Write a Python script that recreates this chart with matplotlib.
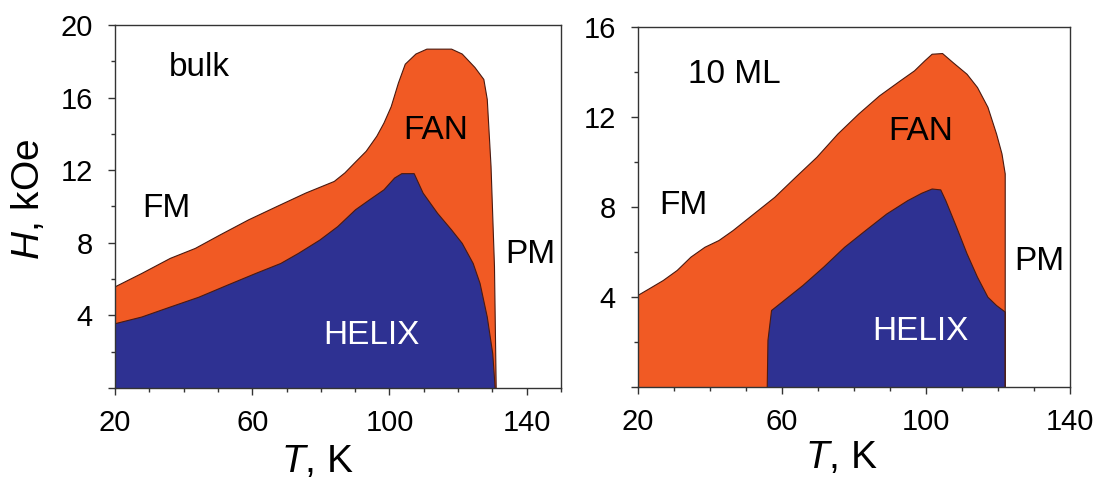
import matplotlib.pyplot as plt
import numpy as np
from matplotlib.ticker import MultipleLocator, FuncFormatter

plt.rcParams['font.family'] = ['Liberation Sans', 'DejaVu Sans']
plt.rcParams['mathtext.fontset'] = 'custom'
plt.rcParams['mathtext.it'] = 'Liberation Sans:italic'
plt.rcParams['mathtext.rm'] = 'Liberation Sans'

# ---- bulk: FM/FAN boundary (upper) and FAN/HELIX boundary ----
bulk_fan_T = [20, 27.8, 36.1, 43.4, 50.6, 58.9, 67.2, 75.6, 83.9, 87.0, 90.1, 93.2, 96.3, 98.4,
              100.5, 102.6, 104.6, 107.7, 110.9, 118.1, 121.2, 124.9, 127.5, 128.5, 129.6, 130.6, 131.1]
bulk_fan_H = [5.57, 6.31, 7.14, 7.69, 8.43, 9.26, 10.0, 10.74, 11.38, 11.85, 12.45, 13.04, 13.87, 14.6,
              15.5, 16.8, 17.84, 18.4, 18.67, 18.67, 18.4, 17.66, 17.0, 15.9, 12.2, 6.7, 0]
bulk_helix_T = [20, 27.8, 36.1, 44.4, 52.7, 61.0, 68.3, 73.5, 79.7, 84.9, 90.1, 94.2, 98.4, 101.5,
                103.6, 107.2, 109.8, 114.0, 118.1, 121.2, 124.4, 126.4, 128.5, 130.1, 130.8]
bulk_helix_H = [3.54, 3.91, 4.46, 5.0, 5.66, 6.31, 6.86, 7.42, 8.15, 8.89, 9.82, 10.37, 10.92, 11.57,
                11.81, 11.81, 10.74, 9.63, 8.71, 7.97, 6.86, 5.76, 3.91, 1.88, 0]

# ---- 10 ML ----
ml_fan_T = [20, 23.1, 27.0, 30.9, 34.7, 38.6, 42.5, 46.4, 52.2, 58.0, 63.8, 69.7, 75.5, 81.3, 87.1,
            92.9, 96.8, 99.7, 101.7, 104.6, 107.5, 111.4, 114.3, 117.2, 119.6, 121.1, 122.0, 122.0]
ml_fan_H = [4.07, 4.36, 4.73, 5.18, 5.77, 6.21, 6.51, 6.95, 7.69, 8.43, 9.32, 10.21, 11.24, 12.13, 12.94,
            13.61, 14.05, 14.5, 14.79, 14.82, 14.42, 13.9, 13.31, 12.43, 11.24, 10.36, 9.47, 0]
ml_helix_T = [55.9, 56.1, 57.1, 60.0, 65.8, 71.6, 77.4, 83.2, 89.1, 94.9, 98.8, 101.7, 104.1, 105.5,
              108.5, 111.4, 114.3, 117.2, 119.6, 122.0, 122.0]
ml_helix_H = [0, 2.07, 3.40, 3.77, 4.51, 5.33, 6.21, 6.95, 7.69, 8.28, 8.61, 8.80, 8.76, 8.28,
              7.10, 5.92, 4.88, 3.99, 3.62, 3.33, 0]

x_ticks = [20, 60, 100, 140]

orange = '#F15A24'
blue = '#2E3192'
edge = '#4a1a10'

fig = plt.figure(figsize=(11.07, 4.78), dpi=100)
ax1 = fig.add_axes([0.1039, 0.1883, 0.4029, 0.7594])
ax2 = fig.add_axes([0.5763, 0.1904, 0.3903, 0.7531])


def phase_fill(ax, fT, fH, hT, hH):
    ax.fill(np.r_[fT[0], fT], np.r_[0, fH], color=orange, lw=0)
    ax.plot(fT, fH, color=edge, lw=0.8)
    ax.fill(np.r_[hT[0], hT, hT[-1]], np.r_[0, hH, 0], color=blue, lw=0)
    ax.plot(hT, hH, color=edge, lw=0.8)


phase_fill(ax1, bulk_fan_T, bulk_fan_H, bulk_helix_T, bulk_helix_H)
phase_fill(ax2, ml_fan_T, ml_fan_H, ml_helix_T, ml_helix_H)

ax1.set_xlim(20, 150)
ax1.set_ylim(0, 20)
ax2.set_xlim(20, 140)
ax2.set_ylim(0, 16)

hide_zero = FuncFormatter(lambda v, p: '' if v == 0 else '%d' % v)
for ax in (ax1, ax2):
    ax.set_xticks(x_ticks)
    ax.xaxis.set_minor_locator(MultipleLocator(10))
    ax.yaxis.set_major_locator(MultipleLocator(4))
    ax.yaxis.set_minor_locator(MultipleLocator(2))
    ax.yaxis.set_major_formatter(hide_zero)
    ax.tick_params(which='both', direction='out', labelsize=21, width=1, color='#333333')
    ax.tick_params(which='major', length=5)
    ax.tick_params(which='minor', length=3)
    ax.tick_params(axis='x', which='major', pad=10)
    ax.tick_params(axis='y', which='major', pad=11)
    for s in ax.spines.values():
        s.set_color('#333333')
        s.set_linewidth(1)

# axis titles
ax1.text(0.453, -0.231, '$T$, K', transform=ax1.transAxes, fontsize=28,
         ha='center', va='baseline')
ax2.text(0.47, -0.225, '$T$, K', transform=ax2.transAxes, fontsize=28,
         ha='center', va='baseline')
ax1.text(-0.195, 0.52, '$H$, kOe', transform=ax1.transAxes, fontsize=28,
         ha='center', va='center', rotation=90)

fs = 24
ax1.text(35.6, 17.2, 'bulk', fontsize=fs)
ax1.text(27.8, 9.42, 'FM', fontsize=fs)
ax1.text(104, 13.7, 'FAN', fontsize=fs)
ax1.text(133.7, 6.86, 'PM', fontsize=fs)
ax1.text(80.7, 2.4, 'HELIX', fontsize=fs, color='white')

ax2.text(33.8, 13.5, '10 ML', fontsize=fs)
ax2.text(26, 7.7, 'FM', fontsize=fs)
ax2.text(89.5, 11.0, 'FAN', fontsize=fs)
ax2.text(124.5, 5.2, 'PM', fontsize=fs)
ax2.text(85.2, 2.07, 'HELIX', fontsize=fs, color='white')

fig.savefig('out.png', dpi=100)
